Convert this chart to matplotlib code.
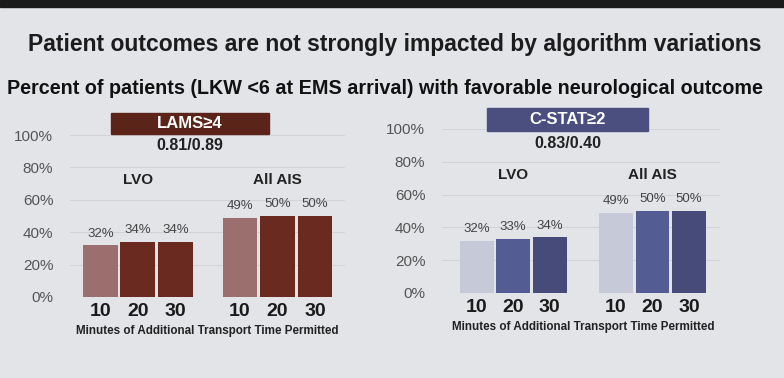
import matplotlib.pyplot as plt
from matplotlib.patches import Rectangle

# data
ticks = ['10', '20', '30']
groups = ['LVO', 'All AIS']
lams_lvo = [32, 34, 34]
lams_ais = [49, 50, 50]
cstat_lvo = [32, 33, 34]
cstat_ais = [49, 50, 50]
yticks = [0, 20, 40, 60, 80, 100]

lams_colors = ['#9b6f6d', '#6a2a20', '#6a2a20']
cstat_colors = ['#c6cad8', '#535c93', '#464b7a']

W, H = 784, 378
fig = plt.figure(figsize=(W / 100, H / 100), dpi=100)
fig.patch.set_facecolor('#e3e4e8')

sans = ['Liberation Sans', 'DejaVu Sans']

# dark edge of the photo at the top
fig.add_artist(Rectangle((0, 1 - 7 / H), 1, 7 / H, transform=fig.transFigure,
                         color='#1a1a1a', zorder=0))

fig.text(395 / W, 1 - 45 / H, 'Patient outcomes are not strongly impacted by algorithm variations',
         ha='center', va='center', fontsize=16.5, fontweight='bold', family=sans, color='#1c1c1c')
fig.text(385 / W, 1 - 88 / H,
         'Percent of patients (LKW <6 at EMS arrival) with favorable neurological outcome',
         ha='center', va='center', fontsize=14.2, fontweight='bold', family=sans, color='#111111')


def panel(rect, lvo, ais, colors, gap, box, box_color, box_text, stat, xlabel_y, tick_y):
    ax = fig.add_axes(rect)
    ax.set_facecolor('none')
    x_lvo = [0, 1, 2]
    x_ais = [2 + gap, 3 + gap, 4 + gap]
    ax.bar(x_lvo, lvo, width=0.93, color=colors, zorder=2)
    ax.bar(x_ais, ais, width=0.93, color=colors, zorder=2)
    for x, v in zip(x_lvo + x_ais, lvo + ais):
        ax.annotate(f'{v}%', (x, v), xytext=(0, 4), textcoords='offset points',
                    ha='center', va='bottom', fontsize=9.5, color='#444444', family=sans)
    ax.set_ylim(0, 100)
    ax.set_yticks(yticks)
    ax.set_yticklabels([f'{t}%' for t in yticks], fontsize=11, color='#555555', family=sans)
    ax.yaxis.grid(True, color='#d2d3d8', lw=0.8, zorder=0)
    ax.tick_params(length=0, pad=12)
    ax.set_xticks([])
    for s in ax.spines.values():
        s.set_visible(False)
    # group labels
    ax.text(1, 72, groups[0], ha='center', va='center', fontsize=11, fontweight='bold',
            family=sans, color='#222222')
    ax.text(3 + gap, 72, groups[1], ha='center', va='center', fontsize=11, fontweight='bold',
            family=sans, color='#222222')
    # x tick labels drawn under each bar
    for x, t in zip(x_lvo + x_ais, ticks + ticks):
        ax.annotate(t, (x, 0), xytext=(0, -tick_y), textcoords='offset pixels',
                    ha='center', va='center', fontsize=14, fontweight='bold',
                    family=sans, color='#1a1a1a', annotation_clip=False)
    ax.annotate('Minutes of Additional Transport Time Permitted', ((2 + gap / 2), 0),
                xytext=(0, -xlabel_y), textcoords='offset pixels', ha='center', va='center',
                fontsize=8.4, fontweight='bold', family=sans, color='#222222',
                annotation_clip=False)
    # header box
    x0, y0, x1, y1 = box
    fig.add_artist(Rectangle((x0 / W, 1 - y1 / H), (x1 - x0) / W, (y1 - y0) / H,
                             transform=fig.transFigure, color=box_color, zorder=3))
    fig.text((x0 + x1) / 2 / W, 1 - (y0 + y1) / 2 / H, box_text, ha='center', va='center',
             fontsize=12, fontweight='bold', color='white', family=sans, zorder=4)
    fig.text((x0 + x1) / 2 / W, 1 - (y1 + 12) / H, stat, ha='center', va='center',
             fontsize=11.5, fontweight='bold', color='#222222', family=sans)
    return ax


# left panel: gridlines x 70..345, 0% at y 297, 100% at y 135
panel([70 / W, (H - 297) / H, 275 / W, 162 / H], lams_lvo, lams_ais, lams_colors, 1.72,
      (111, 113, 269, 134), '#5b2419', 'LAMS\u22654', '0.81/0.89', 34, 15)
# right panel: gridlines x 442..720, 0% at y 293, 100% at y 129
panel([442 / W, (H - 293) / H, 278 / W, 164 / H], cstat_lvo, cstat_ais, cstat_colors, 1.82,
      (487, 108, 648, 131), '#4a4f80', 'C-STAT\u22652', '0.83/0.40', 34, 15)

fig.axes[0].set_xlim(-0.81, 6.52)
fig.axes[1].set_xlim(-0.95, 6.67)

fig.savefig('out.png', dpi=100, facecolor=fig.get_facecolor())
